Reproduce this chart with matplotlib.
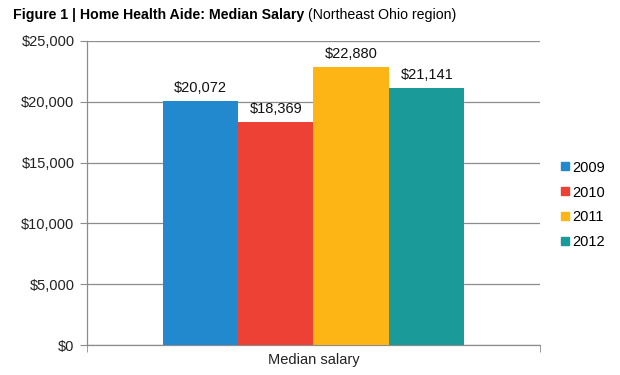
import matplotlib
matplotlib.use("Agg")
import matplotlib.pyplot as plt
from matplotlib.lines import Line2D

years = ["2009", "2010", "2011", "2012"]
salaries = [20072, 18369, 22880, 21141]
colors = ["#2389CF", "#EE4136", "#FDB515", "#1A9A98"]
category = "Median salary"
yticks = [0, 5000, 10000, 15000, 20000, 25000]

plt.rcParams['font.family'] = ['Liberation Sans', 'DejaVu Sans']

fig = plt.figure(figsize=(6.2, 3.75), dpi=100)
ax = fig.add_axes([87/620, 30/375, 453/620, 304/375])

n = len(years)
width = (2/3) / n
for i, (yr, val, c) in enumerate(zip(years, salaries, colors)):
    x = -1/3 + width*(i + 0.5)
    ax.bar(x, val, width=width, color=c, zorder=3, label=yr)
    ax.text(x, val + 500, "${:,}".format(val), ha="center", va="bottom",
            fontsize=10.5, color="#111111")

ax.set_xlim(-0.5, 0.5)
ax.set_ylim(0, 25000)
ax.set_yticks(yticks)
ax.set_yticklabels(["${:,}".format(v) for v in yticks], fontsize=10.5, color="#222222")
ax.yaxis.grid(True, color="#8c8c8c", linewidth=0.9, zorder=0)
ax.set_xticks([0])
ax.set_xticklabels([category], fontsize=10.5, color="#222222")
ax.tick_params(axis="x", length=0, pad=6)
ax.set_xticks([-0.5, 0.5], minor=True)
ax.tick_params(axis="x", which="minor", length=5, color="#8c8c8c")
ax.tick_params(axis="y", length=5, color="#8c8c8c", pad=4)
for s in ["top", "right"]:
    ax.spines[s].set_visible(False)
for s in ["left", "bottom"]:
    ax.spines[s].set_color("#8c8c8c")
    ax.spines[s].set_linewidth(0.9)

handles = [Line2D([], [], marker="s", linestyle="none", markersize=6,
                  markerfacecolor=c, markeredgecolor=c) for c in colors]
fig.legend(handles, years, loc="center left", bbox_to_anchor=(552/620, 1 - 205/375),
           frameon=False, fontsize=10.5, handletextpad=0.0, labelspacing=0.75,
           handlelength=1.0, borderaxespad=0)

t1 = fig.text(13/620, 1 - 15/375, "Figure 1 | Home Health Aide: Median Salary",
              fontsize=10.2, fontweight="bold", va="center", ha="left")
fig.canvas.draw()
bb = t1.get_window_extent()
fig.text((bb.x1 + 4)/620, 1 - 15/375, "(Northeast Ohio region)",
         fontsize=10.2, va="center", ha="left")

fig.savefig("out.png", dpi=100)
